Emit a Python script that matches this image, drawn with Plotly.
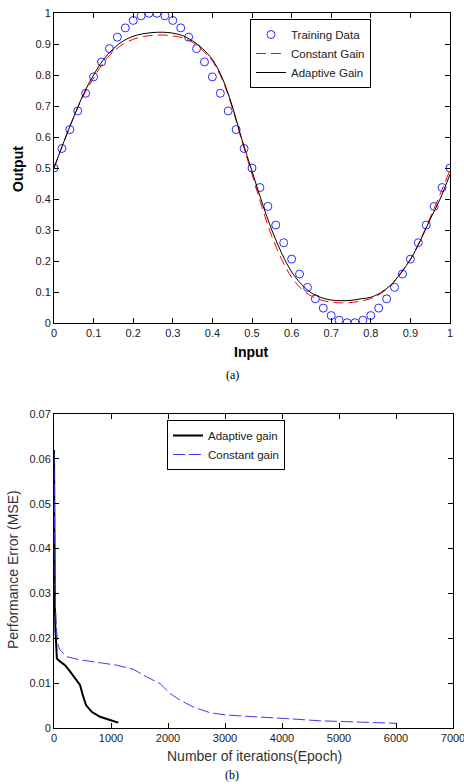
import plotly.graph_objects as go

# ---------------- data: panel (a) ----------------
train_x = [round(0.02 * i, 2) for i in range(51)]
train_y = [0.500, 0.563, 0.624, 0.684, 0.741, 0.794, 0.842, 0.885, 0.922, 0.952,
           0.976, 0.991, 0.999, 0.999, 0.991, 0.976, 0.952, 0.922, 0.885, 0.842,
           0.794, 0.741, 0.684, 0.624, 0.563, 0.500, 0.437, 0.376, 0.316, 0.259,
           0.206, 0.158, 0.115, 0.078, 0.048, 0.024, 0.009, 0.001, 0.001, 0.009,
           0.024, 0.048, 0.078, 0.115, 0.158, 0.206, 0.259, 0.316, 0.376, 0.437,
           0.500]

fit_x = [0, 0.025, 0.05, 0.075, 0.1, 0.125, 0.15, 0.175, 0.2, 0.225, 0.25, 0.275,
         0.3, 0.325, 0.35, 0.375, 0.4, 0.425, 0.45, 0.475, 0.5, 0.525, 0.55, 0.575,
         0.6, 0.625, 0.65, 0.675, 0.7, 0.725, 0.75, 0.775, 0.8, 0.825, 0.85, 0.875,
         0.9, 0.925, 0.95, 0.975, 1.0]
constant_gain_y = [0.500, 0.585, 0.665, 0.735, 0.790, 0.840, 0.875, 0.900, 0.915,
                   0.924, 0.928, 0.929, 0.926, 0.920, 0.905, 0.880, 0.845, 0.785,
                   0.695, 0.585, 0.480, 0.375, 0.280, 0.205, 0.148, 0.110, 0.087,
                   0.074, 0.067, 0.065, 0.066, 0.071, 0.079, 0.095, 0.120, 0.158,
                   0.205, 0.268, 0.340, 0.415, 0.494]
adaptive_gain_y = [0.500, 0.585, 0.665, 0.740, 0.800, 0.850, 0.885, 0.910, 0.925,
                   0.933, 0.937, 0.938, 0.935, 0.927, 0.910, 0.885, 0.850, 0.790,
                   0.700, 0.590, 0.490, 0.390, 0.300, 0.225, 0.165, 0.125, 0.097,
                   0.082, 0.074, 0.072, 0.073, 0.078, 0.083, 0.098, 0.122, 0.160,
                   0.205, 0.265, 0.335, 0.400, 0.480]

# ---------------- data: panel (b) ----------------
adaptive_epochs = [0, 3, 6, 10, 15, 25, 40, 50, 100, 193, 281, 368, 456, 503, 561,
                   661, 807, 982, 1128]
adaptive_mse = [0.062, 0.050, 0.040, 0.031, 0.027, 0.022, 0.017, 0.0155, 0.0149,
                0.0140, 0.0126, 0.0111, 0.0096, 0.0074, 0.0051, 0.0036, 0.0025,
                0.0018, 0.0012]
constant_epochs = [0, 5, 10, 20, 35, 60, 100, 223, 456, 807, 1100, 1392, 1626, 1860,
                   2035, 2211, 2444, 2737, 3030, 3263, 3614, 4082, 4667, 5251, 6000]
constant_mse = [0.0615, 0.050, 0.040, 0.030, 0.024, 0.019, 0.0175, 0.0159, 0.0152,
                0.0146, 0.0140, 0.0131, 0.0114, 0.0099, 0.0077, 0.0062, 0.0047,
                0.0034, 0.0029, 0.0027, 0.0025, 0.0021, 0.0016, 0.0013, 0.00105]

W, H = 464, 784
SANS = "Liberation Sans, Arial, sans-serif"
SERIF = "Liberation Serif, Times New Roman, serif"

def px_x(p):
    return p / W

def px_y(p):
    return 1 - p / H

fig = go.Figure()

fig.add_trace(go.Scatter(x=train_x, y=train_y, mode="markers", name="Training Data",
                         marker=dict(symbol="circle-open", size=8, color="#2a2aff",
                                     line=dict(width=1, color="#2a2aff")),
                         xaxis="x", yaxis="y", legend="legend"))
fig.add_trace(go.Scatter(x=fit_x, y=constant_gain_y, mode="lines", name="Constant Gain",
                         line=dict(color="#ff0000", width=1, dash="10px,5px", shape="spline"),
                         xaxis="x", yaxis="y", legend="legend"))
fig.add_trace(go.Scatter(x=fit_x, y=adaptive_gain_y, mode="lines", name="Adaptive Gain",
                         line=dict(color="#000000", width=1, shape="spline"),
                         xaxis="x", yaxis="y", legend="legend"))

fig.add_trace(go.Scatter(x=adaptive_epochs, y=adaptive_mse, mode="lines", name="Adaptive gain",
                         line=dict(color="#000000", width=2),
                         xaxis="x2", yaxis="y2", legend="legend2"))
fig.add_trace(go.Scatter(x=constant_epochs, y=constant_mse, mode="lines", name="Constant gain",
                         line=dict(color="#3c3cf0", width=1, dash="12px,4px"),
                         xaxis="x2", yaxis="y2", legend="legend2"))

axis_common = dict(showgrid=False, zeroline=False, showline=True, linecolor="#000000",
                   linewidth=1, mirror="allticks", ticks="inside", ticklen=5,
                   tickcolor="#000000", tickwidth=1, ticklabeloverflow="allow",
                   tickfont=dict(family=SANS, size=11, color="#222222"),
                   automargin=False, fixedrange=True)

def label(text, x, y, size, color, family=SANS, angle=0):
    return dict(text=text, x=px_x(x), y=px_y(y), xref="paper", yref="paper",
                xanchor="center", yanchor="middle", showarrow=False,
                textangle=angle, font=dict(family=family, size=size, color=color))

fig.update_layout(
    width=W, height=H,
    margin=dict(l=0, r=0, t=0, b=0),
    paper_bgcolor="white", plot_bgcolor="white",
    xaxis=dict(domain=[px_x(54), px_x(450)], range=[0, 1], tickmode="linear",
               tick0=0, dtick=0.1, anchor="y", **axis_common),
    yaxis=dict(domain=[px_y(323), px_y(13)], range=[0, 1], tickmode="linear",
               tick0=0, dtick=0.1, anchor="x", **axis_common),
    xaxis2=dict(domain=[px_x(54), px_x(453)], range=[0, 7000], tickmode="linear",
                tick0=0, dtick=1000, anchor="y2", separatethousands=False, **axis_common),
    yaxis2=dict(domain=[px_y(728), px_y(414)], range=[0, 0.07], tickmode="linear",
                tick0=0, dtick=0.01, anchor="x2", **axis_common),
    legend=dict(x=px_x(250), y=px_y(19), xanchor="left", yanchor="top",
                bgcolor="white", bordercolor="#000000", borderwidth=1,
                font=dict(family=SANS, size=11.5, color="#222222"),
                itemwidth=30, tracegroupgap=0),
    legend2=dict(x=px_x(167), y=px_y(420), xanchor="left", yanchor="top",
                 bgcolor="white", bordercolor="#000000", borderwidth=1,
                 font=dict(family=SANS, size=11.5, color="#222222"),
                 itemwidth=30, tracegroupgap=0),
    showlegend=True,
    annotations=[
        label("<b>Input</b>", 251, 352, 14, "#000000"),
        label("<b>Output</b>", 18, 169, 14, "#000000", angle=-90),
        label("(a)", 232, 375, 12, "#000000", family=SERIF),
        label("Number of iterations(Epoch)", 254, 756, 14, "#333333"),
        label("Performance Error (MSE)", 13, 570, 14, "#333333", angle=-90),
        label("(b)", 232, 775, 12, "#000000", family=SERIF),
    ],
)

fig.write_html("out.html")
